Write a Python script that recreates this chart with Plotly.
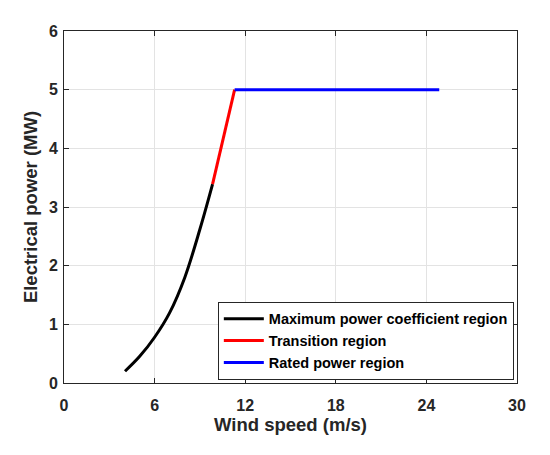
import plotly.graph_objects as go

# Data
mpc_speed = [4.04, 5.0, 6.0, 7.0, 8.0, 9.0, 9.84]
mpc_power = [0.2, 0.45, 0.78, 1.2, 1.8, 2.62, 3.39]
trans_speed = [9.84, 11.3]
trans_power = [3.39, 5.0]
rated_speed = [11.3, 24.85]
rated_power = [5.0, 5.0]
x_ticks = [0, 6, 12, 18, 24, 30]
y_ticks = [0, 1, 2, 3, 4, 5, 6]

font_family = "Liberation Sans, Arial, sans-serif"
ink = "#262626"

fig = go.Figure()
fig.add_trace(go.Scatter(x=mpc_speed, y=mpc_power, mode="lines",
                         line=dict(color="black", width=3, shape="spline"),
                         name="<b>Maximum power coefficient region</b>"))
fig.add_trace(go.Scatter(x=trans_speed, y=trans_power, mode="lines",
                         line=dict(color="red", width=3),
                         name="<b>Transition region</b>"))
fig.add_trace(go.Scatter(x=rated_speed, y=rated_power, mode="lines",
                         line=dict(color="blue", width=3),
                         name="<b>Rated power region</b>"))

axis_common = dict(
    showgrid=True, gridcolor="#e3e3e3", gridwidth=1,
    showline=True, linecolor=ink, linewidth=1, mirror="allticks",
    ticks="inside", ticklen=5, tickcolor=ink,
    zeroline=False,
    tickfont=dict(family=font_family, size=16, color=ink, weight="bold"),
)

fig.update_layout(
    width=550, height=455,
    margin=dict(l=56, r=41, t=23, b=80),
    paper_bgcolor="white", plot_bgcolor="white",
    font=dict(family=font_family, color=ink),
    xaxis=dict(range=[0, 30], tickvals=x_ticks, ticklabelstandoff=8,
               title=dict(text="<b>Wind speed (m/s)</b>", font=dict(size=18.5, family=font_family, color=ink), standoff=4),
               **axis_common),
    yaxis=dict(range=[0, 6], tickvals=y_ticks, ticklabelstandoff=2,
               title=dict(text="<b>Electrical power (MW)</b>", font=dict(size=18.5, family=font_family, color=ink), standoff=6),
               **axis_common),
    legend=dict(x=0.993, y=0.009, xanchor="right", yanchor="bottom",
                bgcolor="white", bordercolor=ink, borderwidth=1,
                font=dict(family=font_family, size=14.5, color="black"),
                itemwidth=40, tracegroupgap=0),
    showlegend=True,
)

fig.write_html("out.html")
